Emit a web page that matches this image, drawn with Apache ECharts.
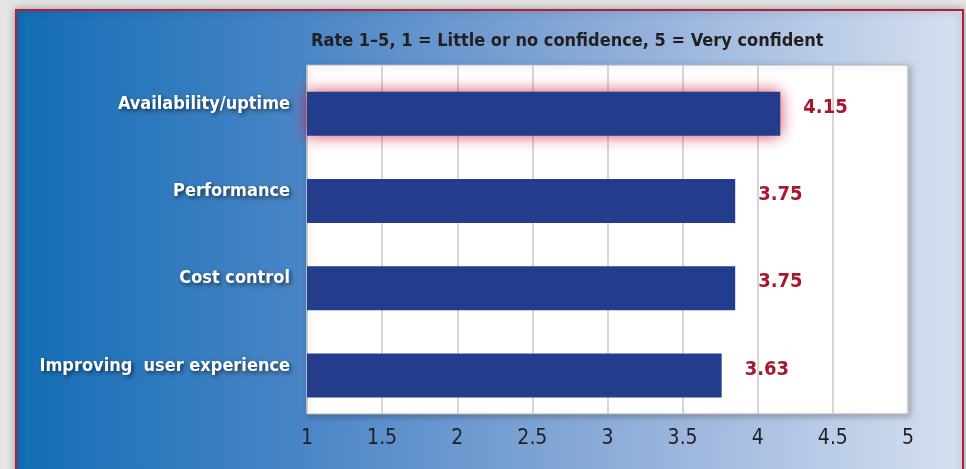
<!DOCTYPE html>
<html>
<head>
    <meta charset="utf-8">
    <title>Confidence rating</title>
    <script src="https://cdn.jsdelivr.net/npm/echarts@6/dist/echarts.min.js"></script>
    <style>
        html, body { margin: 0; padding: 0; background: #e4e4e4; }
    </style>
</head>
<body>
<div id="main" style="width: 966px;height:469px;"></div>
<script type="text/javascript">
    var myChart = echarts.init(document.getElementById('main'));

    // data
    var categories = ['Availability/uptime', 'Performance', 'Cost control', 'Improving  user experience'];
    // bar lengths as drawn in the picture (measured against the gridlines)
    var barLengths = [4.15, 3.85, 3.85, 3.76];
    // numbers printed next to the bars
    var printedValues = ['4.15', '3.75', '3.75', '3.63'];
    var tickMin = 1, tickMax = 5, tickStep = 0.5;

    var condensed = "'Liberation Sans Narrow', 'DejaVu Sans Condensed', 'Roboto', sans-serif";

    // only the first bar gets the red glow
    var barData = barLengths.map(function (v, i) {
        var item = { value: v };
        if (i === 0) {
            item.itemStyle = {
                shadowColor: 'rgba(205, 30, 60, 0.85)',
                shadowBlur: 16
            };
        }
        return item;
    });

    var option = {
        backgroundColor: 'transparent',
        graphic: [{
            type: 'rect',
            z: -10,
            shape: { x: 16, y: 10, width: 947, height: 470 },
            style: {
                fill: new echarts.graphic.LinearGradient(0, 0, 1, 0, [
                    { offset: 0, color: '#136db5' },
                    { offset: 0.3, color: '#4985c6' },
                    { offset: 0.65, color: '#92afda' },
                    { offset: 1, color: '#d6e0f0' }
                ]),
                stroke: '#b01f38',
                lineWidth: 2,
                shadowBlur: 8,
                shadowColor: 'rgba(0,0,0,0.3)'
            }
        }],
        title: {
            text: 'Rate 1–5, 1 = Little or no confidence, 5 = Very confident',
            left: 306,
            top: 27,
            textStyle: {
                color: '#231f20',
                fontFamily: condensed,
                fontWeight: 'bold',
                fontSize: 18
            }
        },
        grid: [{
            // plot frame, gridlines, labels
            left: 307,
            right: 58,
            top: 65,
            bottom: 55,
            outerBoundsMode: 'none',
            containLabel: false,
            show: true,
            backgroundColor: '#ffffff',
            borderColor: '#b5b5b5',
            borderWidth: 1,
            shadowColor: 'rgba(0,0,0,0.25)',
            shadowBlur: 6,
            shadowOffsetX: 2,
            shadowOffsetY: 2
        }, {
            // bars sit a few pixels lower than the label rows
            left: 307,
            right: 58,
            top: 70,
            bottom: 50,
            outerBoundsMode: 'none',
            containLabel: false
        }],
        xAxis: [{
            type: 'value',
            gridIndex: 0,
            min: tickMin,
            max: tickMax,
            interval: tickStep,
            axisLine: { show: false },
            axisTick: { show: false },
            splitLine: { show: true, lineStyle: { color: '#c8c8c8', width: 1.5 } },
            axisLabel: {
                color: '#231f20',
                fontFamily: condensed,
                fontSize: 21,
                margin: 14
            }
        }, {
            type: 'value',
            gridIndex: 1,
            min: tickMin,
            max: tickMax,
            interval: tickStep,
            show: false
        }],
        yAxis: [{
            type: 'category',
            gridIndex: 0,
            inverse: true,
            data: categories,
            axisLine: { show: false },
            axisTick: { show: false },
            axisLabel: {
                margin: 17,
                formatter: function (v) { return '{c|' + v + '}'; },
                rich: {
                    c: {
                        color: '#ffffff',
                        fontFamily: condensed,
                        fontWeight: 'bold',
                        fontSize: 18,
                        padding: [0, 0, 9, 0],
                        textShadowColor: 'rgba(0,0,0,0.6)',
                        textShadowBlur: 4,
                        textShadowOffsetX: 2,
                        textShadowOffsetY: 2
                    }
                }
            }
        }, {
            type: 'category',
            gridIndex: 1,
            inverse: true,
            data: categories,
            show: false
        }],
        series: [{
            type: 'bar',
            xAxisIndex: 1,
            yAxisIndex: 1,
            data: barData,
            barWidth: 44,
            itemStyle: { color: '#233d8c' },
            label: {
                show: true,
                position: 'right',
                distance: 23,
                offset: [0, -6],
                color: '#a6192e',
                fontFamily: condensed,
                fontWeight: 'bold',
                fontSize: 20,
                formatter: function (p) { return printedValues[p.dataIndex]; }
            }
        }]
    };

    myChart.setOption(option);
</script>
</body>
</html>
